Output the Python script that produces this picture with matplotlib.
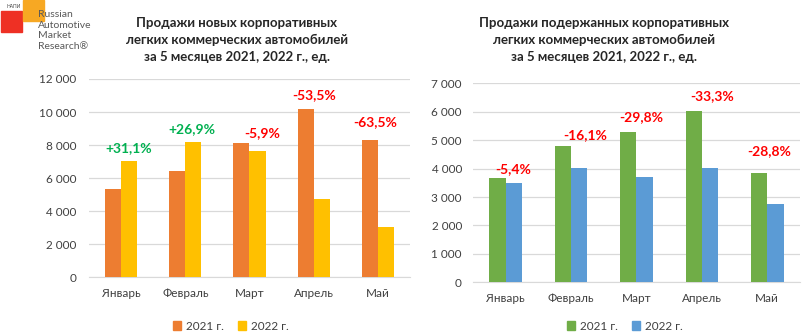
import matplotlib.pyplot as plt
import numpy as np
from matplotlib.patches import Patch, Rectangle
from matplotlib.ticker import FuncFormatter

plt.rcParams['font.family'] = ['Lato', 'DejaVu Sans']

months = ["Январь", "Февраль", "Март", "Апрель", "Май"]
years = ["2021 г.", "2022 г."]

# новые
new_2021 = [5360, 6430, 8120, 10180, 8300]
new_2022 = [7030, 8160, 7640, 4735, 3030]
new_pct = ["+31,1%", "+26,9%", "-5,9%", "-53,5%", "-63,5%"]

# подержанные
used_2021 = [3670, 4795, 5285, 6025, 3845]
used_2022 = [3480, 4020, 3710, 4020, 2740]
used_pct = ["-5,4%", "-16,1%", "-29,8%", "-33,3%", "-28,8%"]

GREEN = "#00B050"
RED = "#FF0000"


def fmt(v, pos):
    return f"{int(v):,}".replace(",", " ")


def draw(ax, a, b, cols, pct, ymax, step, dy, dx, ypad):
    x = np.arange(len(months))
    w = 0.25
    ax.bar(x - w / 2, a, w, color=cols[0], zorder=3)
    ax.bar(x + w / 2, b, w, color=cols[1], zorder=3)
    ax.set_xlim(-0.5, len(months) - 0.5)
    ax.set_ylim(0, ymax)
    ax.set_yticks(np.arange(0, ymax + 1, step))
    ax.yaxis.set_major_formatter(FuncFormatter(fmt))
    ax.set_xticks(x)
    ax.set_xticklabels(months)
    ax.grid(axis="y", color="#D9D9D9", lw=0.9, zorder=0)
    for s in ["top", "right", "left"]:
        ax.spines[s].set_visible(False)
    ax.spines["bottom"].set_color("#D9D9D9")
    ax.tick_params(length=0, labelsize=8.5, colors="#404040")
    ax.tick_params(axis="y", pad=ypad)
    ax.tick_params(axis="x", pad=8)
    for i, t in enumerate(pct):
        c = GREEN if t.startswith("+") else RED
        ax.text(x[i] + dx[i], max(a[i], b[i]) + dy[i], t, ha="center", va="center",
                color=c, fontsize=10, fontweight="bold")


fig = plt.figure(figsize=(8.12, 3.35), dpi=100)
ax1 = fig.add_axes([89 / 812, 57.7 / 335, 321 / 812, 198.3 / 335])
ax2 = fig.add_axes([473 / 812, 52.7 / 335, 327 / 812, 199 / 335])

draw(ax1, new_2021, new_2022, ["#ED7D31", "#FFC000"], new_pct, 12000, 2000,
     [770, 830, 620, 870, 1090], [0.12, 0.11, 0.2, 0.0, -0.05], 9)
draw(ax2, used_2021, used_2022, ["#70AD47", "#5B9BD5"], used_pct, 7000, 1000,
     [320, 380, 520, 540, 775], [0.12, 0.21, 0.08, 0.15, 0.03], 8)

fig.text(237 / 812, 1 - 40 / 335,
         "Продажи новых корпоративных\nлегких коммерческих автомобилей\nза 5 месяцев 2021, 2022 г., ед.",
         ha="center", va="center", fontsize=9.5, fontweight="bold", color="#262626",
         linespacing=1.45)
fig.text(604 / 812, 1 - 40 / 335,
         "Продажи подержанных корпоративных\nлегких коммерческих автомобилей\nза 5 месяцев 2021, 2022 г., ед.",
         ha="center", va="center", fontsize=9.5, fontweight="bold", color="#262626",
         linespacing=1.45)

for ax, cols, cx in [(ax1, ["#ED7D31", "#FFC000"], 231), (ax2, ["#70AD47", "#5B9BD5"], 625)]:
    h = [Patch(color=cols[0]), Patch(color=cols[1])]
    fig.legend(h, years, loc="center", bbox_to_anchor=(cx / 812, 1 - 326 / 335), ncol=2,
               frameon=False, fontsize=8.5, handlelength=0.7, handleheight=0.7,
               handletextpad=0.4, columnspacing=1.2, labelcolor="#404040")

# логотип
fig.patches.append(Rectangle((1 / 812, 1 - 32 / 335), 21 / 812, 21 / 335,
                             transform=fig.transFigure, color="#EE3024", zorder=1))
fig.patches.append(Rectangle((23 / 812, 1 - 21 / 335), 21 / 812, 21 / 335,
                             transform=fig.transFigure, color="#F7A823", zorder=1))
fig.text(7 / 812, 1 - 7 / 335, "НАПИ", fontsize=3.5, color="#404040", va="center")
fig.text(38 / 812, 1 - 30.5 / 335, "Russian\nAutomotive\nMarket\nResearch®", fontsize=7.5,
         color="#595959", va="center", linespacing=1.2)

fig.savefig("out.png", dpi=100)
